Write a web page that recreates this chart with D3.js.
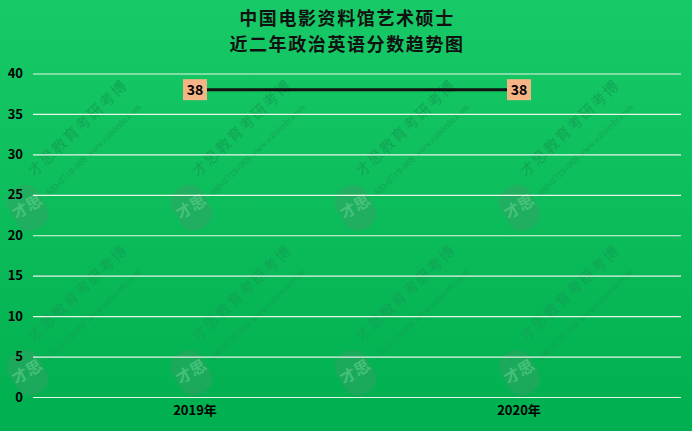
<!DOCTYPE html>
<html>
<head>
<meta charset="utf-8">
<script src="https://cdn.jsdelivr.net/npm/d3@7"></script>
<style>
html,body{margin:0;padding:0;background:#fff;}
svg{display:block;}
</style>
</head>
<body>
<svg id="chart" width="692" height="431"></svg>
<script>
const categories = ["2019年", "2020年"];
const values = [38, 38];
const yTicks = [0, 5, 10, 15, 20, 25, 30, 35, 40];
const titleLines = ["中国电影资料馆艺术硕士", "近二年政治英语分数趋势图"];
const watermarkText = "才思教育考研考博";
const watermarkUrl = "400-0719-069  www.caisiedu.com";

(function () {
const W = 692, H = 431;
const svg = d3.select("#chart");
const font = "'Noto Sans CJK SC', 'Noto Sans', sans-serif";

const defs = svg.append("defs");
const grad = defs.append("linearGradient").attr("id", "bg").attr("x1", 0).attr("y1", 0).attr("x2", 0).attr("y2", 1);
grad.append("stop").attr("offset", "0%").attr("stop-color", "#18CA67");
grad.append("stop").attr("offset", "100%").attr("stop-color", "#00AF4F");
svg.append("rect").attr("width", W).attr("height", H).attr("fill", "url(#bg)");

// watermarks (decorative)
const wmPos = [];
[207, 372].forEach(cy => [27, 191, 355, 519].forEach(cx => wmPos.push({cx, cy})));
const wm = svg.append("g").selectAll("g").data(wmPos).join("g")
  .attr("transform", d => `translate(${d.cx},${d.cy})`);
wm.append("rect").attr("x", -17).attr("y", -22).attr("width", 34).attr("height", 46).attr("rx", 15)
  .attr("transform", "rotate(-30)").attr("fill", "#3a9d68").attr("opacity", 0.45);
wm.append("text").attr("transform", "rotate(-30)").attr("text-anchor", "middle").attr("dy", "0.35em")
  .attr("font-family", font).attr("font-size", 16).attr("font-weight", "bold")
  .attr("fill", "#5fd08c").attr("opacity", 0.6).text("才思");
wm.append("text").attr("transform", "translate(7,-29) rotate(-44)")
  .attr("font-family", font).attr("font-size", 15).attr("letter-spacing", 1.5)
  .attr("fill", "#11a555").attr("opacity", 0.9).text(watermarkText);
wm.append("text").attr("transform", "translate(22,-10) rotate(-44)")
  .attr("font-family", "'Liberation Serif', serif").attr("font-size", 9.5)
  .attr("fill", "#11a555").attr("opacity", 0.9).text(watermarkUrl);

const mLeft = 33, mRight = 681, mTop = 73.5, mBottom = 397;
const x = d3.scaleBand().domain(categories).range([mLeft, mRight]);
const y = d3.scaleLinear().domain([0, 40]).range([mBottom, mTop]);

// title
svg.append("g").selectAll("text").data(titleLines).join("text")
  .attr("x", 347).attr("y", (d, i) => 25 + i * 26)
  .attr("text-anchor", "middle")
  .attr("font-family", font).attr("font-weight", "bold").attr("font-size", 18)
  .attr("letter-spacing", 1.6)
  .attr("fill", "#111").text(d => d);

// grid
const yAxis = d3.axisLeft(y).tickValues(yTicks).tickSize(-(mRight - mLeft)).tickPadding(10);
const gy = svg.append("g").attr("transform", `translate(${mLeft},0)`).call(yAxis);
gy.select(".domain").remove();
gy.selectAll(".tick line").attr("stroke", "#E8F5E8").attr("stroke-width", 1.2);
gy.selectAll(".tick text").attr("font-family", font).attr("font-weight", "bold")
  .attr("font-size", 13).attr("fill", "#000");

// x axis labels
const xAxis = d3.axisBottom(x).tickSize(0).tickPadding(9);
const gx = svg.append("g").attr("transform", `translate(0,${mBottom})`).call(xAxis);
gx.select(".domain").remove();
gx.selectAll(".tick text").attr("font-family", font).attr("font-weight", "bold")
  .attr("font-size", 13).attr("fill", "#000");

// line
const pts = categories.map((c, i) => ({c, v: values[i]}));
const line = d3.line().x(d => x(d.c) + x.bandwidth() / 2).y(d => y(d.v));
svg.append("path").datum(pts).attr("d", line)
  .attr("fill", "none").attr("stroke", "#111").attr("stroke-width", 3);

// labels
const lab = svg.append("g").selectAll("g").data(pts).join("g")
  .attr("transform", d => `translate(${x(d.c) + x.bandwidth() / 2},${y(d.v)})`);
lab.append("rect").attr("x", -12).attr("y", -10.5).attr("width", 24).attr("height", 21)
  .attr("fill", "#F5B485");
lab.append("text").attr("text-anchor", "middle").attr("dy", "0.36em")
  .attr("font-family", font).attr("font-weight", "bold").attr("font-size", 14)
  .attr("fill", "#000").text(d => d.v);
})();
</script>
</body>
</html>
